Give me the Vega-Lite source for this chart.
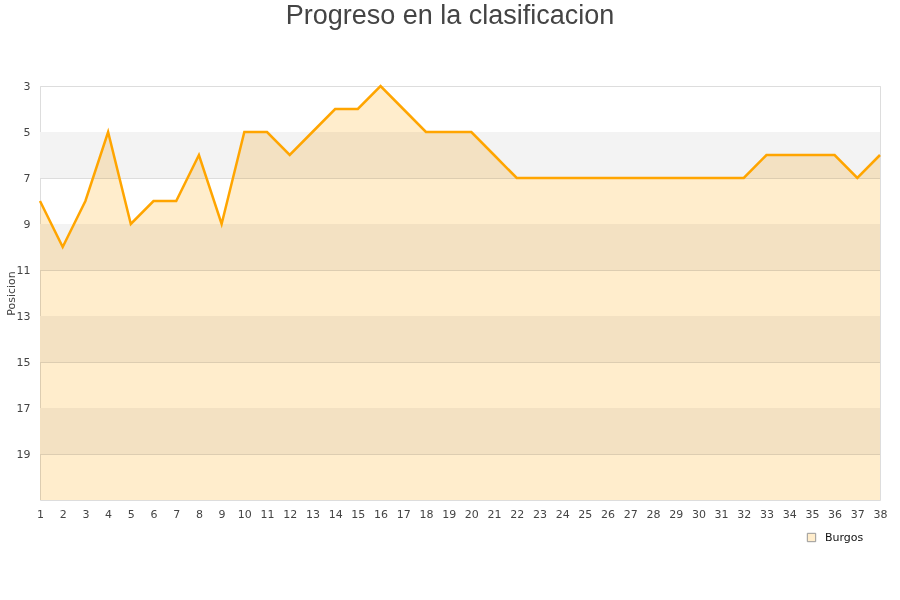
{
  "$schema": "https://vega.github.io/schema/vega-lite/v6.json",
  "autosize": "none",
  "width": 840,
  "height": 414,
  "padding": {"left": 40, "top": 86, "right": 20, "bottom": 100},
  "background": "white",
  "config": {
    "view": {"stroke": "#dddddd"},
    "font": "DejaVu Sans"
  },
  "title": {
    "text": "Progreso en la clasificacion",
    "font": "Liberation Sans",
    "fontSize": 27,
    "fontWeight": "normal",
    "color": "#444444",
    "anchor": "middle",
    "dx": -10,
    "offset": 50
  },
  "datasets": {
    "bands": [
      {"y1": 5, "y2": 7},
      {"y1": 9, "y2": 11},
      {"y1": 13, "y2": 15},
      {"y1": 17, "y2": 19}
    ],
    "pos": [
      {"jornada": 1, "posicion": 8, "equipo": "Burgos"},
      {"jornada": 2, "posicion": 10, "equipo": "Burgos"},
      {"jornada": 3, "posicion": 8, "equipo": "Burgos"},
      {"jornada": 4, "posicion": 5, "equipo": "Burgos"},
      {"jornada": 5, "posicion": 9, "equipo": "Burgos"},
      {"jornada": 6, "posicion": 8, "equipo": "Burgos"},
      {"jornada": 7, "posicion": 8, "equipo": "Burgos"},
      {"jornada": 8, "posicion": 6, "equipo": "Burgos"},
      {"jornada": 9, "posicion": 9, "equipo": "Burgos"},
      {"jornada": 10, "posicion": 5, "equipo": "Burgos"},
      {"jornada": 11, "posicion": 5, "equipo": "Burgos"},
      {"jornada": 12, "posicion": 6, "equipo": "Burgos"},
      {"jornada": 13, "posicion": 5, "equipo": "Burgos"},
      {"jornada": 14, "posicion": 4, "equipo": "Burgos"},
      {"jornada": 15, "posicion": 4, "equipo": "Burgos"},
      {"jornada": 16, "posicion": 3, "equipo": "Burgos"},
      {"jornada": 17, "posicion": 4, "equipo": "Burgos"},
      {"jornada": 18, "posicion": 5, "equipo": "Burgos"},
      {"jornada": 19, "posicion": 5, "equipo": "Burgos"},
      {"jornada": 20, "posicion": 5, "equipo": "Burgos"},
      {"jornada": 21, "posicion": 6, "equipo": "Burgos"},
      {"jornada": 22, "posicion": 7, "equipo": "Burgos"},
      {"jornada": 23, "posicion": 7, "equipo": "Burgos"},
      {"jornada": 24, "posicion": 7, "equipo": "Burgos"},
      {"jornada": 25, "posicion": 7, "equipo": "Burgos"},
      {"jornada": 26, "posicion": 7, "equipo": "Burgos"},
      {"jornada": 27, "posicion": 7, "equipo": "Burgos"},
      {"jornada": 28, "posicion": 7, "equipo": "Burgos"},
      {"jornada": 29, "posicion": 7, "equipo": "Burgos"},
      {"jornada": 30, "posicion": 7, "equipo": "Burgos"},
      {"jornada": 31, "posicion": 7, "equipo": "Burgos"},
      {"jornada": 32, "posicion": 7, "equipo": "Burgos"},
      {"jornada": 33, "posicion": 6, "equipo": "Burgos"},
      {"jornada": 34, "posicion": 6, "equipo": "Burgos"},
      {"jornada": 35, "posicion": 6, "equipo": "Burgos"},
      {"jornada": 36, "posicion": 6, "equipo": "Burgos"},
      {"jornada": 37, "posicion": 7, "equipo": "Burgos"},
      {"jornada": 38, "posicion": 6, "equipo": "Burgos"}
    ]
  },
  "layer": [
    {
      "data": {"name": "bands"},
      "mark": {"type": "rect", "fill": "#f3f3f3"},
      "encoding": {
        "y": {
          "field": "y1", "type": "quantitative",
          "scale": {"domain": [3, 21], "reverse": true, "nice": false, "zero": false},
          "axis": {
            "title": "Posicion",
            "titleFontSize": 11, "titleFontWeight": "normal", "titleColor": "#444444",
            "titleX": -29, "titleY": 207, "titleAngle": -90,
            "titleAlign": "center", "titleBaseline": "middle",
            "values": [3, 5, 7, 9, 11, 13, 15, 17, 19],
            "grid": true, "gridColor": "#dddddd", "ticks": false, "domain": false,
            "labelFontSize": 11, "labelColor": "#444444", "labelPadding": 10
          }
        },
        "y2": {"field": "y2"}
      }
    },
    {
      "data": {"name": "pos"},
      "mark": {"type": "area", "blend": "multiply", "interpolate": "linear"},
      "encoding": {
        "x": {
          "field": "jornada", "type": "quantitative",
          "scale": {"domain": [1, 38], "nice": false, "zero": false},
          "axis": {
            "title": null,
            "values": [1,2,3,4,5,6,7,8,9,10,11,12,13,14,15,16,17,18,19,20,21,22,23,24,25,26,27,28,29,30,31,32,33,34,35,36,37,38],
            "grid": false, "ticks": false, "domain": false,
            "labelFontSize": 11, "labelColor": "#444444", "labelPadding": 8,
            "labelFlush": false, "labelOverlap": false, "labelBound": false
          }
        },
        "y": {"field": "posicion", "type": "quantitative"},
        "y2": {"datum": 21},
        "color": {
          "field": "equipo", "type": "nominal",
          "scale": {"domain": ["Burgos"], "range": ["#ffedcc"]},
          "legend": {
            "title": null, "orient": "none", "legendX": 766, "legendY": 446,
            "symbolType": "square", "symbolSize": 70,
            "symbolStrokeColor": "#999999", "symbolStrokeWidth": 1,
            "labelFontSize": 11, "labelColor": "#111111", "labelOffset": 8,
            "encode": {
              "symbols": {
                "update": {
                  "stroke": {"value": "#999999"},
                  "strokeWidth": {"value": 1}
                }
              }
            }
          }
        }
      }
    },
    {
      "data": {"name": "pos"},
      "mark": {"type": "line", "stroke": "#ffa500", "strokeWidth": 2.5},
      "encoding": {
        "x": {"field": "jornada", "type": "quantitative", "axis": {
            "title": null,
            "values": [1,2,3,4,5,6,7,8,9,10,11,12,13,14,15,16,17,18,19,20,21,22,23,24,25,26,27,28,29,30,31,32,33,34,35,36,37,38],
            "grid": false, "ticks": false, "domain": false,
            "labelFontSize": 11, "labelColor": "#444444", "labelPadding": 8,
            "labelFlush": false, "labelOverlap": false, "labelBound": false
          }},
        "y": {"field": "posicion", "type": "quantitative"}
      }
    }
  ]
}
